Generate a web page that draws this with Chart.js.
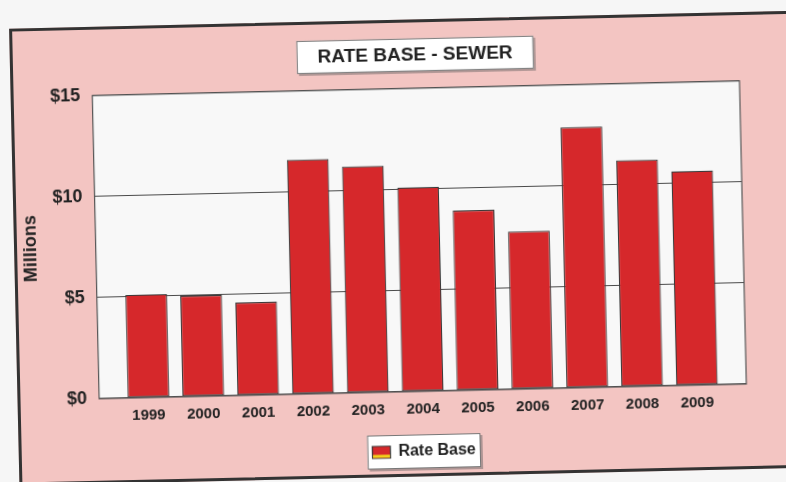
<!DOCTYPE html>
<html>
<head>
<meta charset="utf-8">
<script src="https://cdn.jsdelivr.net/npm/chart.js@4.4.1/dist/chart.umd.min.js"></script>
<style>
    html, body { margin: 0; padding: 0; background: #f6f6f6; overflow: hidden; }
    #page { position: absolute; left: 0; top: 0; width: 786px; height: 482px;
            transform-origin: 393px 241px; transform: rotate(-1.3deg); }
    #panel { position: absolute; left: 14px; top: 20px; width: 840px; height: 451px;
             background: #f3c5c2; border: 3px solid #333; }
    #wrap { position: absolute; left: 0; top: 0; width: 786px; height: 482px; }
</style>
</head>
<body>
<div id="page">
    <div id="panel"></div>
    <div id="wrap"><canvas id="rateChart"></canvas></div>
</div>
<script>
const TITLE = 'RATE BASE - SEWER';
const YEARS = ['1999', '2000', '2001', '2002', '2003', '2004', '2005', '2006', '2007', '2008', '2009'];
const RATE_BASE = [5.1, 5.0, 4.6, 11.6, 11.2, 10.1, 8.9, 7.8, 12.9, 11.2, 10.6];
const Y_TICKS = [0, 5, 10, 15];

const FONT = '"Liberation Sans", Arial, Helvetica, sans-serif';
const BAR_RED = '#d6282b';

Chart.defaults.font.family = FONT;
Chart.defaults.color = '#222';

// white plot area, framed title and legend boxes
const framePlugin = {
    id: 'frames',
    beforeDraw(chart) {
        const { ctx, chartArea: a } = chart;
        ctx.save();
        ctx.fillStyle = '#f8f8f8';
        ctx.fillRect(a.left, a.top, a.width, a.height);

        const t = chart.titleBlock;
        const tf = t.options.font;
        ctx.font = 'bold ' + tf.size + 'px ' + FONT;
        const tw = ctx.measureText(TITLE).width + 42;
        const cx = (t.left + t.right) / 2;
        const cy = t.top + t.options.padding.top + tf.size * 0.6;
        drawBox(ctx, cx - tw / 2, cy - 16.5, tw, 33);

        const hb = chart.legend.legendHitBoxes[0];
        if (hb) {
            drawBox(ctx, hb.left - 5, hb.top - 9, hb.width + 10, hb.height + 18);
        }
        ctx.restore();
    },
    afterDraw(chart) {
        const { ctx, chartArea: a } = chart;
        ctx.save();
        ctx.strokeStyle = '#555';
        ctx.lineWidth = 1.2;
        ctx.strokeRect(a.left, a.top, a.width, a.height);

        // yellow base stripe on the legend swatch
        const hb = chart.legend.legendHitBoxes[0];
        if (hb) {
            const lab = chart.options.plugins.legend.labels;
            const top = hb.top + (hb.height - lab.boxHeight) / 2;
            ctx.fillStyle = '#f2d21b';
            ctx.fillRect(hb.left + 0.5, top + lab.boxHeight - 3.5, lab.boxWidth - 1, 3);
        }
        ctx.restore();
    }
};

function drawBox(ctx, x, y, w, h) {
    ctx.fillStyle = 'rgba(90,90,90,0.45)';
    ctx.fillRect(x + 2, y + 2, w, h);
    ctx.fillStyle = '#ffffff';
    ctx.fillRect(x, y, w, h);
    ctx.strokeStyle = '#777';
    ctx.lineWidth = 1;
    ctx.strokeRect(x + 0.5, y + 0.5, w - 1, h - 1);
}

const ctx = document.getElementById('rateChart').getContext('2d');
new Chart(ctx, {
    type: 'bar',
    data: {
        datasets: [{
            label: 'Rate Base',
            data: RATE_BASE.map((v, i) => ({ x: i, y: v })),
            backgroundColor: BAR_RED,
            borderColor: '#3a3a3a',
            borderWidth: 1.2,
            borderSkipped: false,
            barPercentage: 0.76,
            categoryPercentage: 1
        }]
    },
    plugins: [framePlugin],
    options: {
        responsive: true,
        maintainAspectRatio: false,
        animation: false,
        layout: {
            padding: { left: 20, right: 43, top: 0, bottom: 12 }
        },
        scales: {
            x: {
                type: 'linear',
                offset: false,
                min: -0.9,
                max: 10.9,
                afterBuildTicks: (scale) => {
                    scale.ticks = YEARS.map((_, i) => ({ value: i }));
                },
                grid: { display: false, drawTicks: false },
                border: { display: false },
                ticks: {
                    callback: (v) => YEARS[v],
                    font: { size: 15, weight: 'bold' },
                    padding: 9,
                    maxRotation: 0,
                    autoSkip: false
                }
            },
            y: {
                min: 0,
                max: 15,
                afterBuildTicks: (scale) => {
                    scale.ticks = Y_TICKS.map(v => ({ value: v }));
                },
                grid: { color: '#4a4a4a', lineWidth: 1.1, drawTicks: false },
                border: { display: false },
                ticks: {
                    callback: (v) => '$' + v,
                    font: { size: 18, weight: 'bold' },
                    padding: 12
                },
                title: {
                    display: true,
                    text: 'Millions',
                    font: { size: 18, weight: 'bold' },
                    padding: { top: 0, bottom: 0 }
                }
            }
        },
        plugins: {
            title: {
                display: true,
                text: TITLE,
                fullSize: false,
                color: '#222',
                font: { size: 19, weight: 'bold' },
                padding: { top: 44, bottom: 22 }
            },
            legend: {
                position: 'bottom',
                fullSize: false,
                labels: {
                    font: { size: 16, weight: 'bold' },
                    boxWidth: 18,
                    boxHeight: 12,
                    padding: 16,
                    color: '#222'
                }
            },
            tooltip: { enabled: false }
        }
    }
});
</script>
</body>
</html>
